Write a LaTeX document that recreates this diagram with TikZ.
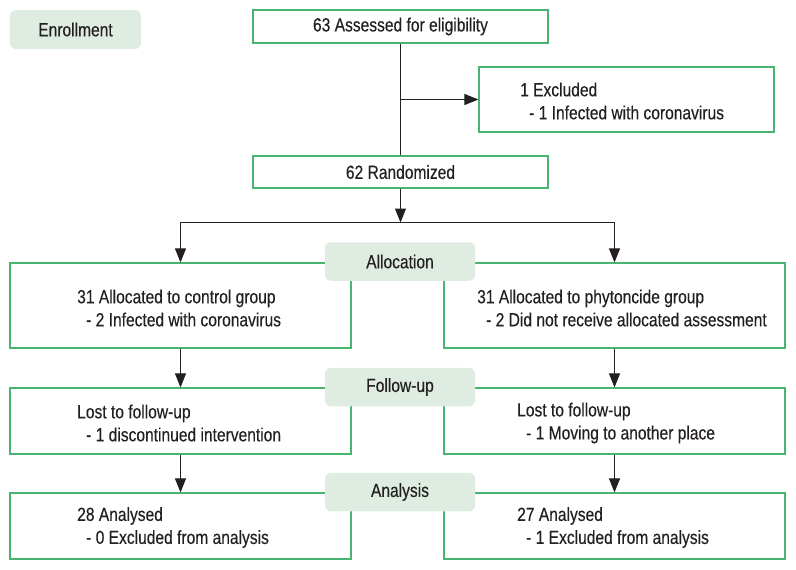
\documentclass[tikz,border=0pt]{standalone}
\usepackage{fontspec}
\setmainfont[FakeStretch=0.82,FakeBold=0.25]{Liberation Sans}
\usetikzlibrary{arrows.meta}
\definecolor{boxgreen}{RGB}{72,182,112}
\definecolor{labfill}{RGB}{222,236,225}
\definecolor{txt}{RGB}{35,31,32}
\begin{document}
\begin{tikzpicture}[x=1pt,y=-1pt,
  every node/.style={font=\fontsize{19}{23}\selectfont, text=txt},
  gbox/.style={draw=boxgreen, line width=1.2pt, fill=white, inner sep=0pt, rectangle},
  stagelab/.style={fill=labfill, rounded corners=6pt, inner sep=0pt, minimum width=150pt, minimum height=38.5pt},
  btext/.style={anchor=west, align=left, inner sep=0pt},
  conn/.style={draw=txt, line width=1.1pt},
  arr/.style={conn, -{Triangle[length=14pt,width=11pt]}}
]
\useasboundingbox (0,0) rectangle (796,570);

% boxes
\node[gbox, minimum width=295pt, minimum height=33pt] (assess) at (400.5,26.5) {63 Assessed for eligibility};
\node[gbox, minimum width=295pt, minimum height=65pt] (excl) at (626.5,99.5) {};
\node[gbox, minimum width=295pt, minimum height=32pt] (rand) at (400.5,172) {62 Randomized};
\node[gbox, minimum width=341pt, minimum height=85pt] (allocL) at (180.5,305.5) {};
\node[gbox, minimum width=341pt, minimum height=85pt] (allocR) at (614.5,305.5) {};
\node[gbox, minimum width=341pt, minimum height=66pt] (fuL) at (180.5,421) {};
\node[gbox, minimum width=341pt, minimum height=66pt] (fuR) at (614.5,421) {};
\node[gbox, minimum width=341pt, minimum height=66pt] (anL) at (180.5,526) {};
\node[gbox, minimum width=341pt, minimum height=66pt] (anR) at (614.5,526) {};

% box texts
\node[btext] (exclt) at (520,101) {1 Excluded\\\hspace*{9pt}- 1 Infected with coronavirus};
\node[btext] (allocLt) at (77,308) {31 Allocated to control group\\\hspace*{9pt}- 2 Infected with coronavirus};
\node[btext] (allocRt) at (477,308) {31 Allocated to phytoncide group\\\hspace*{9pt}- 2 Did not receive allocated assessment};
\node[btext] (fuLt) at (77,423) {Lost to follow-up\\\hspace*{9pt}- 1 discontinued intervention};
\node[btext] (fuRt) at (517,423) {Lost to follow-up\\\hspace*{9pt}- 1 Moving to another place};
\node[btext] (anLt) at (77,527.5) {28 Analysed\\\hspace*{9pt}- 0 Excluded from analysis};
\node[btext] (anRt) at (517,527.5) {27 Analysed\\\hspace*{9pt}- 1 Excluded from analysis};

% stage labels
\node[stagelab, minimum width=131pt, minimum height=39pt] (enroll) at (75.5,29.5) {Enrollment};
\node[stagelab] (alloclab) at (400,261.5) {Allocation};
\node[stagelab] (fulab) at (400,387) {Follow-up};
\node[stagelab] (anlab) at (400,492) {Analysis};

% connectors
\coordinate (branch) at (assess.south |- excl.west);
\coordinate (split) at (400.5,222.5);
\draw[conn] (assess.south) -- (rand.north);
\draw[arr] (branch) -- (excl.west);
\draw[arr] (rand.south) -- (split);
\draw[arr] (split) -| (allocL.north);
\draw[arr] (split) -| (allocR.north);
\draw[arr] (allocL.south) -- (fuL.north);
\draw[arr] (allocR.south) -- (fuR.north);
\draw[arr] (fuL.south) -- (anL.north);
\draw[arr] (fuR.south) -- (anR.north);
\end{tikzpicture}
\end{document}
